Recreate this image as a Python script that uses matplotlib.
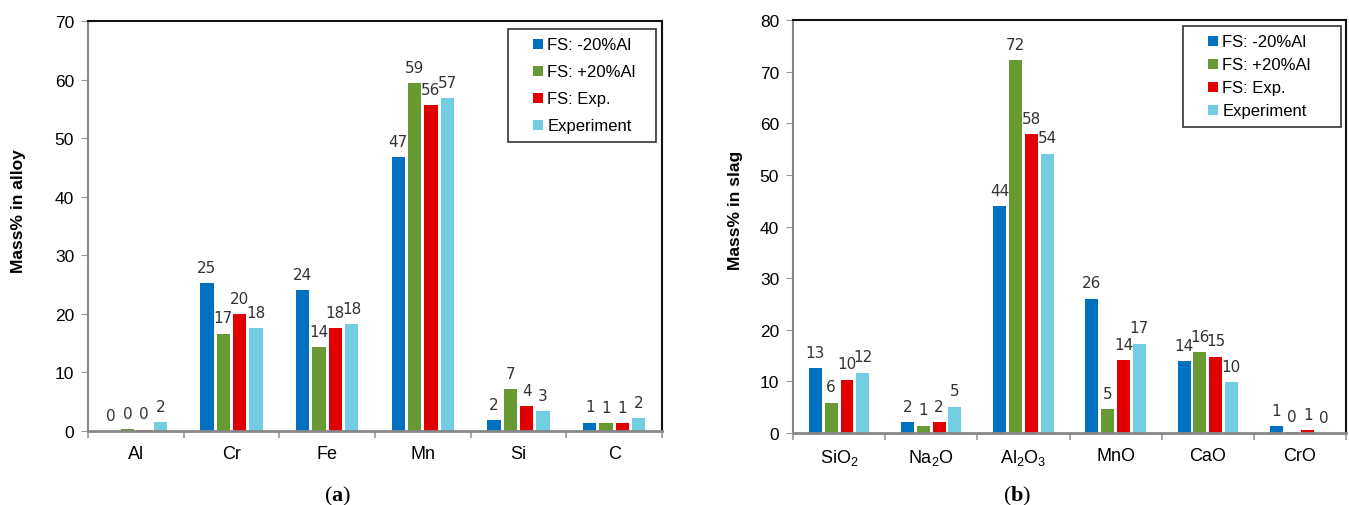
import matplotlib.pyplot as plt
from matplotlib.lines import Line2D
import numpy as np

# data
series = ['FS: -20%Al', 'FS: +20%Al', 'FS: Exp.', 'Experiment']
colors = ['#0070C0', '#679A32', '#E00000', '#72CDE0']

alloy_cats = ['Al', 'Cr', 'Fe', 'Mn', 'Si', 'C']
alloy_m20 = [0.0, 25.2, 24.0, 46.7, 1.9, 1.4]
alloy_p20 = [0.3, 16.6, 14.3, 59.4, 7.1, 1.3]
alloy_fsexp = [0.2, 20.0, 17.6, 55.6, 4.2, 1.3]
alloy_exp = [1.5, 17.6, 18.2, 56.8, 3.4, 2.2]

slag_cats = ['SiO$_2$', 'Na$_2$O', 'Al$_2$O$_3$', 'MnO', 'CaO', 'CrO']
slag_m20 = [12.6, 2.1, 43.9, 26.0, 13.9, 1.3]
slag_p20 = [5.9, 1.4, 72.2, 4.6, 15.6, 0.2]
slag_fsexp = [10.3, 2.1, 57.9, 14.1, 14.8, 0.6]
slag_exp = [11.7, 5.1, 54.1, 17.3, 9.8, 0.0]

plt.rcParams['font.family'] = ['Liberation Sans', 'DejaVu Sans']
plt.rcParams['mathtext.fontset'] = 'custom'
plt.rcParams['mathtext.rm'] = 'Liberation Sans'
plt.rcParams['mathtext.bf'] = 'Liberation Serif:bold'
lab_font = ['Liberation Sans Narrow', 'DejaVu Sans']


def panel(ax, cats, data, ymax, ylabel, ylab_xy, leg_box, leg_space):
    x = np.arange(len(cats))
    w = 0.14
    pitch = 0.171
    for i, (vals, c) in enumerate(zip(data, colors)):
        xs = x + (i - 1.5) * pitch
        ax.bar(xs, vals, w, color=c, zorder=2)
        for xx, v in zip(xs, vals):
            ax.annotate('%d' % round(v), (xx, v), xytext=(0, 6),
                        textcoords='offset points', ha='center', va='bottom',
                        fontsize=11, color='#333333', family=lab_font)
    ax.set_xlim(-0.5, len(cats) - 0.5)
    ax.set_ylim(0, ymax)
    ax.set_yticks(np.arange(0, ymax + 1, 10))
    ax.set_xticks(x)
    ax.set_xticklabels(cats, fontsize=13)
    ax.set_xticks(np.arange(-0.5, len(cats)), minor=True)
    ax.tick_params(axis='x', which='major', length=0, pad=10)
    ax.tick_params(axis='x', which='minor', length=5, color='#999999', width=1.2)
    ax.tick_params(axis='y', labelsize=12.5, length=5, color='#999999', pad=5)
    ax.set_ylabel(ylabel, fontsize=12.5, fontweight='bold')
    ax.yaxis.set_label_coords(*ylab_xy)
    ax.spines['left'].set_color('#888888')
    ax.spines['left'].set_linewidth(1.5)
    ax.spines['bottom'].set_color('#888888')
    ax.spines['bottom'].set_linewidth(2)
    ax.spines['top'].set_color('#111111')
    ax.spines['top'].set_linewidth(1.5)
    ax.spines['right'].set_color('#111111')
    ax.spines['right'].set_linewidth(1.5)
    handles = [Line2D([], [], ls='none', marker='s', markersize=7, color=c,
                      markeredgewidth=0) for c in colors]
    leg = ax.legend(handles, series, loc='upper left', fontsize=12, frameon=True,
                    fancybox=False, edgecolor='black', handlelength=2.6,
                    handletextpad=-0.75, labelspacing=leg_space, borderpad=0.5,
                    borderaxespad=0, mode='expand', bbox_to_anchor=leg_box,
                    bbox_transform=ax.figure.transFigure)
    leg.get_frame().set_linewidth(1.2)


fig = plt.figure(figsize=(13.49, 5.06), dpi=100)
ax1 = fig.add_axes([88 / 1349, 1 - 432 / 506, (662 - 88) / 1349, (432 - 22) / 506])
ax2 = fig.add_axes([793 / 1349, 1 - 434 / 506, (1346 - 793) / 1349, (434 - 21) / 506])

panel(ax1, alloy_cats, [alloy_m20, alloy_p20, alloy_fsexp, alloy_exp], 70,
      'Mass% in alloy', (-0.108, 0.539),
      (508 / 1349, 1 - 137 / 506, 148 / 1349, 107 / 506), 0.72)
panel(ax2, slag_cats, [slag_m20, slag_p20, slag_fsexp, slag_exp], 80,
      'Mass% in slag', (-0.090, 0.542),
      (1183 / 1349, 1 - 123 / 506, 158 / 1349, 96 / 506), 0.48)

fig.text(338 / 1349, 1 - 496 / 506, r'($\mathbf{a}$)', fontsize=16,
         family='Liberation Serif', ha='center', va='center')
fig.text(1017 / 1349, 1 - 496 / 506, r'($\mathbf{b}$)', fontsize=16,
         family='Liberation Serif', ha='center', va='center')

fig.savefig('out.png', dpi=100)
